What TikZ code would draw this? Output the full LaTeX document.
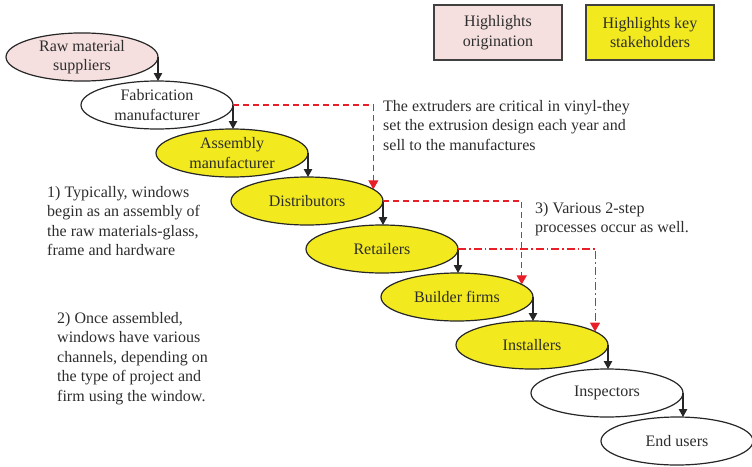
\documentclass[tikz,border=0pt]{standalone}
\usepackage{fontspec}
\setmainfont{Liberation Serif}
\usetikzlibrary{shapes.geometric,arrows.meta}
\definecolor{pinkfill}{RGB}{245,224,223}
\definecolor{yelfill}{RGB}{242,234,30}
\definecolor{redline}{RGB}{232,30,40}
\definecolor{txt}{RGB}{45,45,45}
\begin{document}
\begin{tikzpicture}[x=1pt,y=-1pt,
  font=\fontsize{16}{19.5}\selectfont, text=txt,
  stage/.style={ellipse, draw=black!85, line width=1.2pt, minimum width=152pt,
    minimum height=48pt, inner sep=0pt, outer sep=0pt, align=center},
  origin/.style={stage, fill=pinkfill},
  key/.style={stage, fill=yelfill},
  plain/.style={stage, fill=white},
  legend/.style={rectangle, draw=black!75, line width=1.3pt, minimum width=128pt,
    minimum height=55pt, inner sep=0pt, align=center},
  note/.style={anchor=north west, inner sep=0pt, align=left},
  flow/.style={draw=black!85, line width=1.1pt, -{Triangle[length=8pt,width=8.5pt]}},
  extra/.style={draw=redline, line width=1.1pt, dash pattern=on 6pt off 4pt,
    -{Triangle[length=9pt,width=10pt,fill=redline]}},
  extradot/.style={draw=redline, line width=1.1pt, dash pattern=on 8pt off 3pt on 1.5pt off 3pt,
    -{Triangle[length=9pt,width=10pt,fill=redline]}}
]
\useasboundingbox (0,0) rectangle (752,466);

\node[legend, fill=pinkfill] (lg1) at (498,32.5) {Highlights\\origination};
\node[legend, fill=yelfill] (lg2) at (650,32.5) {Highlights key\\stakeholders};

\node[origin] (raw) at (82,57) {Raw material\\suppliers};
\node[plain] (fab) at (157,105) {Fabrication\\manufacturer};
\node[key] (asm) at (232,153) {Assembly\\manufacturer};
\node[key] (dis) at (307,201) {Distributors};
\node[key] (ret) at (382,249) {Retailers};
\node[key] (bld) at (457,297) {Builder firms};
\node[key] (ins) at (532,345) {Installers};
\node[plain] (isp) at (607,393) {Inspectors};
\node[plain] (end) at (677,441) {End users};

\foreach \a/\b in {raw/fab, fab/asm, asm/dis, dis/ret, ret/bld, bld/ins, ins/isp, isp/end}
  \draw[flow] (\a.east) -- (\a.east |- \b.north);

\draw[extra] (fab.east) -| (dis.10.8);
\draw[extra] (dis.east) -| (bld.11.4);
\draw[extradot] (ret.east) -| (ins.12);

\node[note] (n0) at (383,100) {The extruders are critical in vinyl-they\\set the extrusion design each year and\\sell to the manufactures};
\node[note] (n1) at (47,186) {1) Typically, windows\\begin as an assembly of\\the raw materials-glass,\\frame and hardware};
\node[note] (n2) at (57,312) {2) Once assembled,\\windows have various\\channels, depending on\\the type of project and\\firm using the window.};
\node[note] (n3) at (535,202) {3) Various 2-step\\processes occur as well.};
\end{tikzpicture}
\end{document}
